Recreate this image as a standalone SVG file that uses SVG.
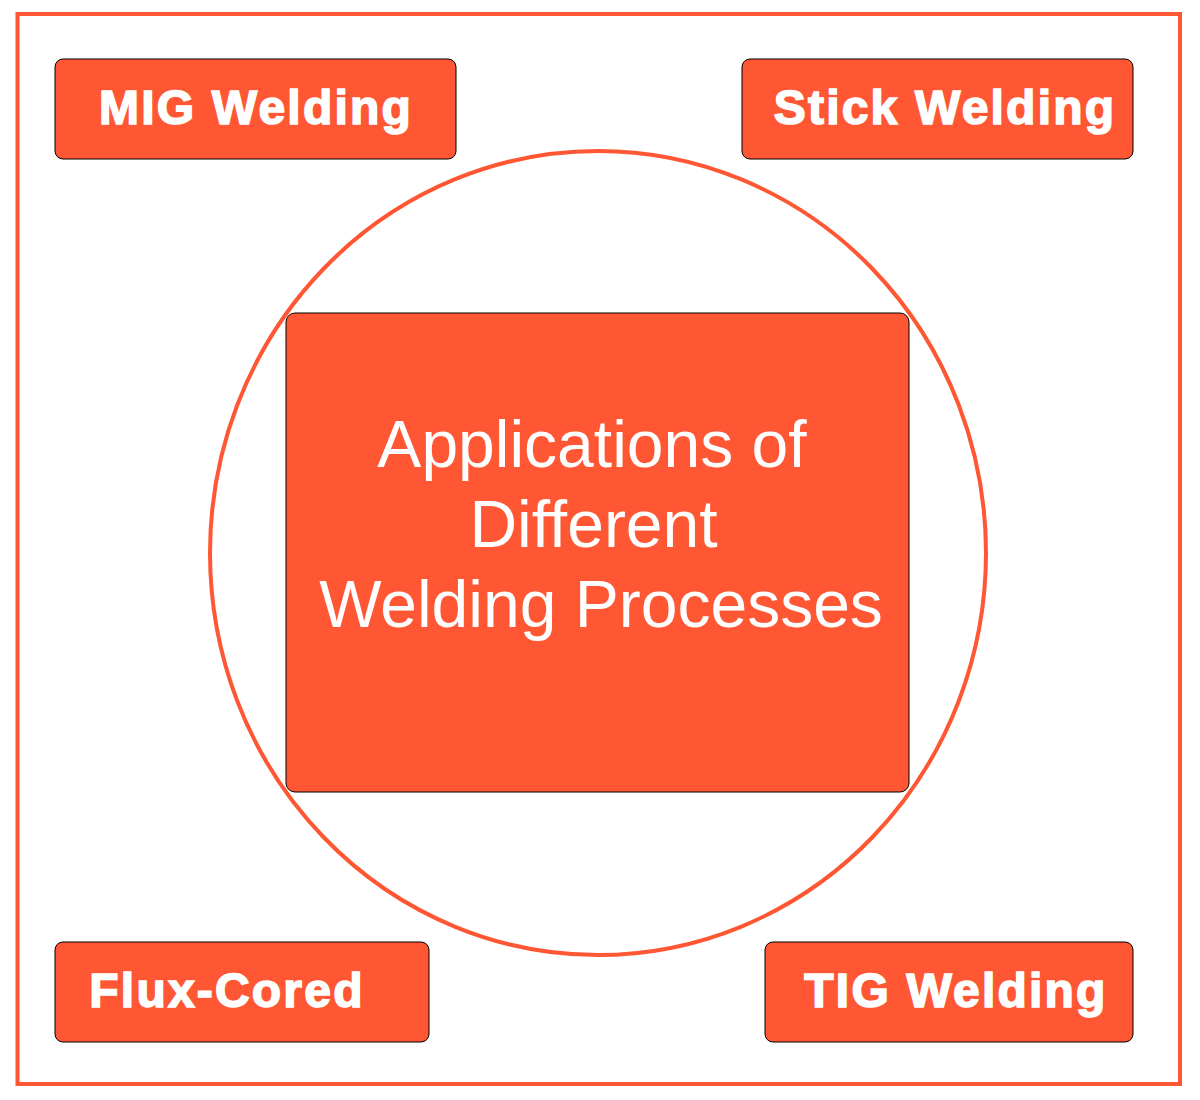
<svg xmlns="http://www.w3.org/2000/svg" width="1200" height="1100" viewBox="0 0 1200 1100">
<style>
.box{fill:#FF5733;stroke:#000;stroke-width:1}
.lbl{font-family:"Liberation Sans",Arial,sans-serif;font-weight:bold;font-size:48px;fill:#fff;stroke:#fff;stroke-width:1.6;letter-spacing:2.2px;text-anchor:middle}
.ctr{font-family:"Liberation Sans",Arial,sans-serif;font-size:66px;fill:#fff;text-anchor:middle}
</style>
<rect x="0" y="0" width="1200" height="1100" fill="#fff"/>
<rect x="17.5" y="14" width="1162.5" height="1070" fill="none" stroke="#FF5733" stroke-width="4"/>
<g id="circle">
<ellipse cx="598" cy="553" rx="388" ry="402" fill="none" stroke="#FF5733" stroke-width="4"/>
</g>
<g id="center">
<rect class="box" x="286" y="313" width="623" height="479" rx="9"/>
<text class="ctr" x="592" y="467">Applications of</text>
<text class="ctr" x="593.5" y="547">Different</text>
<text class="ctr" x="601" y="627">Welding Processes</text>
</g>
<g id="mig">
<rect class="box" x="55" y="59" width="401" height="100" rx="8"/>
<text class="lbl" x="256" y="124">MIG Welding</text>
</g>
<g id="stick">
<rect class="box" x="742" y="59" width="391" height="100" rx="8"/>
<text class="lbl" x="945" y="124">Stick Welding</text>
</g>
<g id="flux">
<rect class="box" x="55" y="942" width="374" height="100" rx="8"/>
<text class="lbl" x="227" y="1007">Flux-Cored</text>
</g>
<g id="tig">
<rect class="box" x="765" y="942" width="368" height="100" rx="8"/>
<text class="lbl" x="956" y="1007">TIG Welding</text>
</g>
<g id="connectors"></g>
</svg>
